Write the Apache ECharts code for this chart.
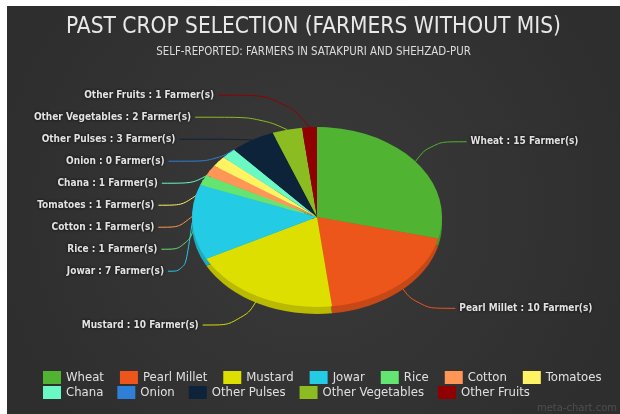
<!DOCTYPE html>
<html><head><meta charset="utf-8">
<script src="https://cdn.jsdelivr.net/npm/echarts@6/dist/echarts.min.js"></script>
<style>
html,body{margin:0;padding:0;background:#fff;width:620px;height:414px;overflow:hidden;}
#c{position:absolute;left:7px;top:6px;width:613px;height:408px;}
</style></head><body><div id="c"></div>
<script>
// ---- data ----
const categories = ['Wheat','Pearl Millet','Mustard','Jowar','Rice','Cotton','Tomatoes','Chana','Onion','Other Pulses','Other Vegetables','Other Fruits'];
const farmers = [15,10,10,7,1,1,1,1,0,3,2,1];
const legendRow1 = categories.slice(0,7);
const legendRow2 = categories.slice(7);
const titleText = 'PAST CROP SELECTION (FARMERS WITHOUT MIS)';
const subtitleText = 'SELF-REPORTED: FARMERS IN SATAKPURI AND SHEHZAD-PUR';
const unitText = 'Farmer(s)';
const watermarkText = 'meta-chart.com';

// ---- styles / layout ----
const colors = ['#50B432','#ED561B','#DDDF00','#24CBE5','#64E572','#FF9655','#FFF263','#6AF9C4','#2f7ed8','#0d233a','#8bbc21','#910000'];
const FONT = "'DejaVu Sans Condensed', 'DejaVu Sans', sans-serif";
const CX = 310, CY = 211, RY = 90, SX = 125/90, DEPTH = 7;
const LA_L = 163, LB_L = 157, LA_R = 175, LB_R = 157;   // label ring

const total = farmers.reduce((a,b)=>a+b,0);
const cum = []; let acc = 0; farmers.forEach(v=>{cum.push(acc); acc+=v;});
function shade(hex, f){
  const n = parseInt(hex.slice(1),16);
  const r = Math.round(((n>>16)&255)*f), g = Math.round(((n>>8)&255)*f), b = Math.round((n&255)*f);
  return 'rgb('+r+','+g+','+b+')';
}
const toE = x => CX + (x - CX)*SX;

const chart = echarts.init(document.getElementById('c'));
chart.setOption({
  backgroundColor: {type:'radial', x:0.5, y:0.5, r:0.8, colorStops:[{offset:0,color:'#3a3a3a'},{offset:1,color:'#2e2e2e'}]},
  color: colors,
  animation: false,
  title: {
    text: titleText, subtext: subtitleText, left: 'center', top: 5, itemGap: 8,
    textStyle: {color:'#e8e8e8', fontSize:22.5, fontWeight:'normal', fontFamily:FONT},
    subtextStyle: {color:'#dcdcdc', fontSize:11.4, fontFamily:FONT}
  },
  legend: [
    {data: legendRow1, left: 36, top: 365, padding: 0, itemGap: 16, itemWidth: 18, itemHeight: 13, icon: 'rect', selectedMode: false,
     textStyle: {color:'#e0e0e0', fontSize:13, fontFamily:FONT}},
    {data: legendRow2, left: 36, top: 380, padding: 0, itemGap: 14, itemWidth: 18, itemHeight: 13, icon: 'rect', selectedMode: false,
     textStyle: {color:'#e0e0e0', fontSize:13, fontFamily:FONT}}
  ],
  graphic: [{type:'text', right: 3, bottom: 1, silent: true,
    style:{text: watermarkText, fill:'#4e4e4e', font: "10px 'DejaVu Sans'"}}],
  series: [
    {
      type: 'pie', center: [CX, CY], radius: RY, startAngle: 90, clockwise: true, z: 1, silent: true,
      data: categories.map((n,i)=>({name:n, value:farmers[i]})),
      emphasis: {disabled: true},
      label: {
        formatter: '{b} : {c} ' + unitText, color: '#e2e2e2', fontSize: 10, fontWeight: 'bold', fontFamily: FONT,
        lineHeight: 20, textShadowColor: 'rgba(0,0,0,0.9)', textShadowBlur: 3
      },
      labelLine: {length: 32, length2: 10, smooth: 0.45, lineStyle: {width: 1}},
      labelLayout: function (p) {
        if (!p.labelLinePoints) return {};
        const r = p.labelRect;
        const left = p.align === 'right';
        const y = r.y + r.height/2;
        const t = (y - CY) / (left ? LB_L : LB_R);
        const k = Math.sqrt(Math.max(0, 1 - t*t));
        const ax = left ? CX - LA_L*k : CX + LA_R*k;
        const p0 = [toE(p.labelLinePoints[0][0]), p.labelLinePoints[0][1]];
        const p2 = [left ? ax + 4 : ax - 4, y];
        const p1 = [p0[0] + (p2[0]-p0[0])*0.3, y];
        return {x: ax, y: y, labelLinePoints: [p0, p1, p2]};
      }
    },
    {
      type: 'custom', coordinateSystem: 'none', z: 3, silent: true,
      data: farmers.map((v,i)=>[i,v]),
      renderItem: function (params, api) {
        const i = api.value(0), v = api.value(1);
        const start = -Math.PI/2 + cum[i]/total*2*Math.PI;
        const end = start + v/total*2*Math.PI;
        return {type:'group', x: CX, y: CY, scaleX: SX, children: [
          {type:'sector', z2: 1, shape:{cx:0, cy:DEPTH, r:RY, startAngle:start, endAngle:end, clockwise:true}, style:{fill: shade(colors[i], 0.84)}},
          {type:'sector', z2: 10, shape:{cx:0, cy:0, r:RY, startAngle:start, endAngle:end, clockwise:true}, style:{fill: colors[i]}}
        ]};
      }
    }
  ]
});
</script></body></html>
